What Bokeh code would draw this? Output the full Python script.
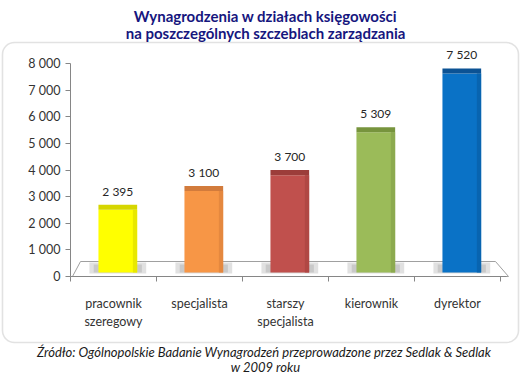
from bokeh.plotting import figure
from bokeh.models import Range1d, FixedTicker, BoxAnnotation, ColumnDataSource
from bokeh.core.properties import value
from bokeh.embed import file_html
from bokeh.resources import INLINE

# ---- data ----
categories = ["pracownik\nszeregowy", "specjalista", "starszy\nspecjalista", "kierownik", "dyrektor"]
salaries = [2395, 3100, 3700, 5309, 7520]
salary_labels = ["2 395", "3 100", "3 700", "5 309", "7 520"]
y_ticks = [0, 1000, 2000, 3000, 4000, 5000, 6000, 7000, 8000]
y_tick_labels = ["0", "1 000", "2 000", "3 000", "4 000", "5 000", "6 000", "7 000", "8 000"]
bar_colors = ["#FFFF00", "#F79646", "#C0504D", "#9BBB59", "#0A72C6"]
cap_colors = ["#D6D600", "#D27B3C", "#9C3D3A", "#77943D", "#0B5294"]
side_colors = ["#E8E800", "#E5883F", "#B04744", "#8CAA4F", "#0864B0"]
title_lines = ["Wynagrodzenia w działach księgowości", "na poszczególnych szczeblach zarządzania"]
source_lines = ["Źródło: Ogólnopolskie Badanie Wynagrodzeń przeprowadzone przez  Sedlak & Sedlak",
                "w 2009 roku"]

n = len(categories)
xs = list(range(n))
font = "Lato"

W, H = 526, 374
# pixel <-> data helpers (canvas pixels, origin top-left)
PX0, SX = 70.0, 86.0          # x = -0.5 at px 70, 86 px per category
PY0, SY = 276.0, 0.0266       # y = 0 at px 276, 0.0266 px per unit


def dx(px):
    return -0.5 + (px - PX0) / SX


def dy(py):
    return (PY0 - py) / SY


p = figure(width=W, height=H, output_backend="svg", toolbar_location=None, title=None,
           x_range=Range1d(dx(0), dx(W)), y_range=Range1d(dy(H), dy(0)),
           min_border=0, min_border_left=0, min_border_right=0, min_border_top=0, min_border_bottom=0)
p.outline_line_color = None
p.xgrid.visible = False
p.ygrid.visible = False
p.background_fill_color = "white"
p.border_fill_color = "white"

# rounded chart border
box = BoxAnnotation(left=dx(2), right=dx(518), top=dy(42), bottom=dy(342),
                    fill_alpha=0, line_color="#A0A0A0", line_width=1.6, border_radius=12,
                    level="underlay")
p.add_layout(box)

# floor (3D base)
floor_x = [dx(72), dx(80), dx(495), dx(508)]
floor_y = [0, dy(261), dy(261), 0]
p.patch(floor_x, floor_y, fill_color="white", line_color="#A0A0A0", line_width=1)

off = 0.05
bw = 0.45
src = ColumnDataSource(dict(x=[i + off for i in xs], top=salaries, color=bar_colors,
                            cap=cap_colors, side=side_colors, label=salary_labels,
                            xr=[i + off + bw / 2 - 0.025 for i in xs],
                            cap_bot=[v + 110 for v in salaries],
                            cap_top=[v + 300 for v in salaries]))
# shadows on the floor
p.vbar(x="x", width=0.66, bottom=dy(273), top=dy(262), source=src, fill_color="#C4C4C4",
       fill_alpha=0.5, line_color=None)
p.vbar(x="x", width=0.56, bottom=dy(272), top=dy(264), source=src, fill_color="#ADADAD",
       fill_alpha=0.45, line_color=None)
# bars
p.vbar(x="x", width=bw, bottom=dy(272), top="cap_bot", source=src, fill_color="color", line_color=None)
p.vbar(x="xr", width=0.05, bottom=dy(272), top="cap_bot", source=src, fill_color="side", line_color=None)
p.vbar(x="x", width=bw, bottom="cap_bot", top="cap_top", source=src, fill_color="cap", line_color=None)

# value labels
p.text(x="x", y="cap_top", text="label", source=src, text_align="center", text_baseline="bottom",
       y_offset=-6, text_font=value(font), text_font_size="12px", text_color="#262626")

# axes (drawn at fixed locations inside the full-canvas frame)
xa = p.xaxis[0]
xa.fixed_location = 0
xa.ticker = FixedTicker(ticks=xs, minor_ticks=[i - 0.5 for i in range(n + 1)])
xa.major_label_overrides = {i: c for i, c in zip(xs, categories)}
xa.bounds = (-0.5, dx(506))
xa.major_tick_line_color = None
xa.major_tick_out = 0
xa.major_tick_in = 0
xa.minor_tick_out = 5
xa.minor_tick_in = 0
xa.minor_tick_line_color = "#868686"
xa.axis_line_color = "#868686"
xa.major_label_standoff = 14
xa.major_label_text_font = font
xa.major_label_text_font_size = "12.5px"
xa.major_label_text_color = "#333333"
xa.major_label_text_line_height = 1.2

ya = p.yaxis[0]
ya.fixed_location = -0.5
ya.ticker = FixedTicker(ticks=y_ticks, minor_ticks=[])
ya.major_label_overrides = {t: l for t, l in zip(y_ticks, y_tick_labels)}
ya.bounds = (0, 8000)
ya.major_tick_in = 0
ya.major_tick_out = 5
ya.major_tick_line_color = "#868686"
ya.axis_line_color = "#868686"
ya.major_label_standoff = 5
ya.major_label_text_font = font
ya.major_label_text_font_size = "12.5px"
ya.major_label_text_color = "#333333"

# title & source
cx = dx(265)
p.text(x=[cx, cx], y=[dy(15.5), dy(32.5)], text=title_lines, text_align="center",
       text_baseline="middle", text_font=value(font), text_font_size="15px",
       text_font_style="bold", text_color="#16167E")
p.text(x=[cx, cx], y=[dy(351), dy(366)], text=source_lines, text_align="center",
       text_baseline="middle", text_font=value(font), text_font_size="13px",
       text_font_style="italic", text_color="#1A1A1A")

open("out.html", "w").write(file_html(p, INLINE))
